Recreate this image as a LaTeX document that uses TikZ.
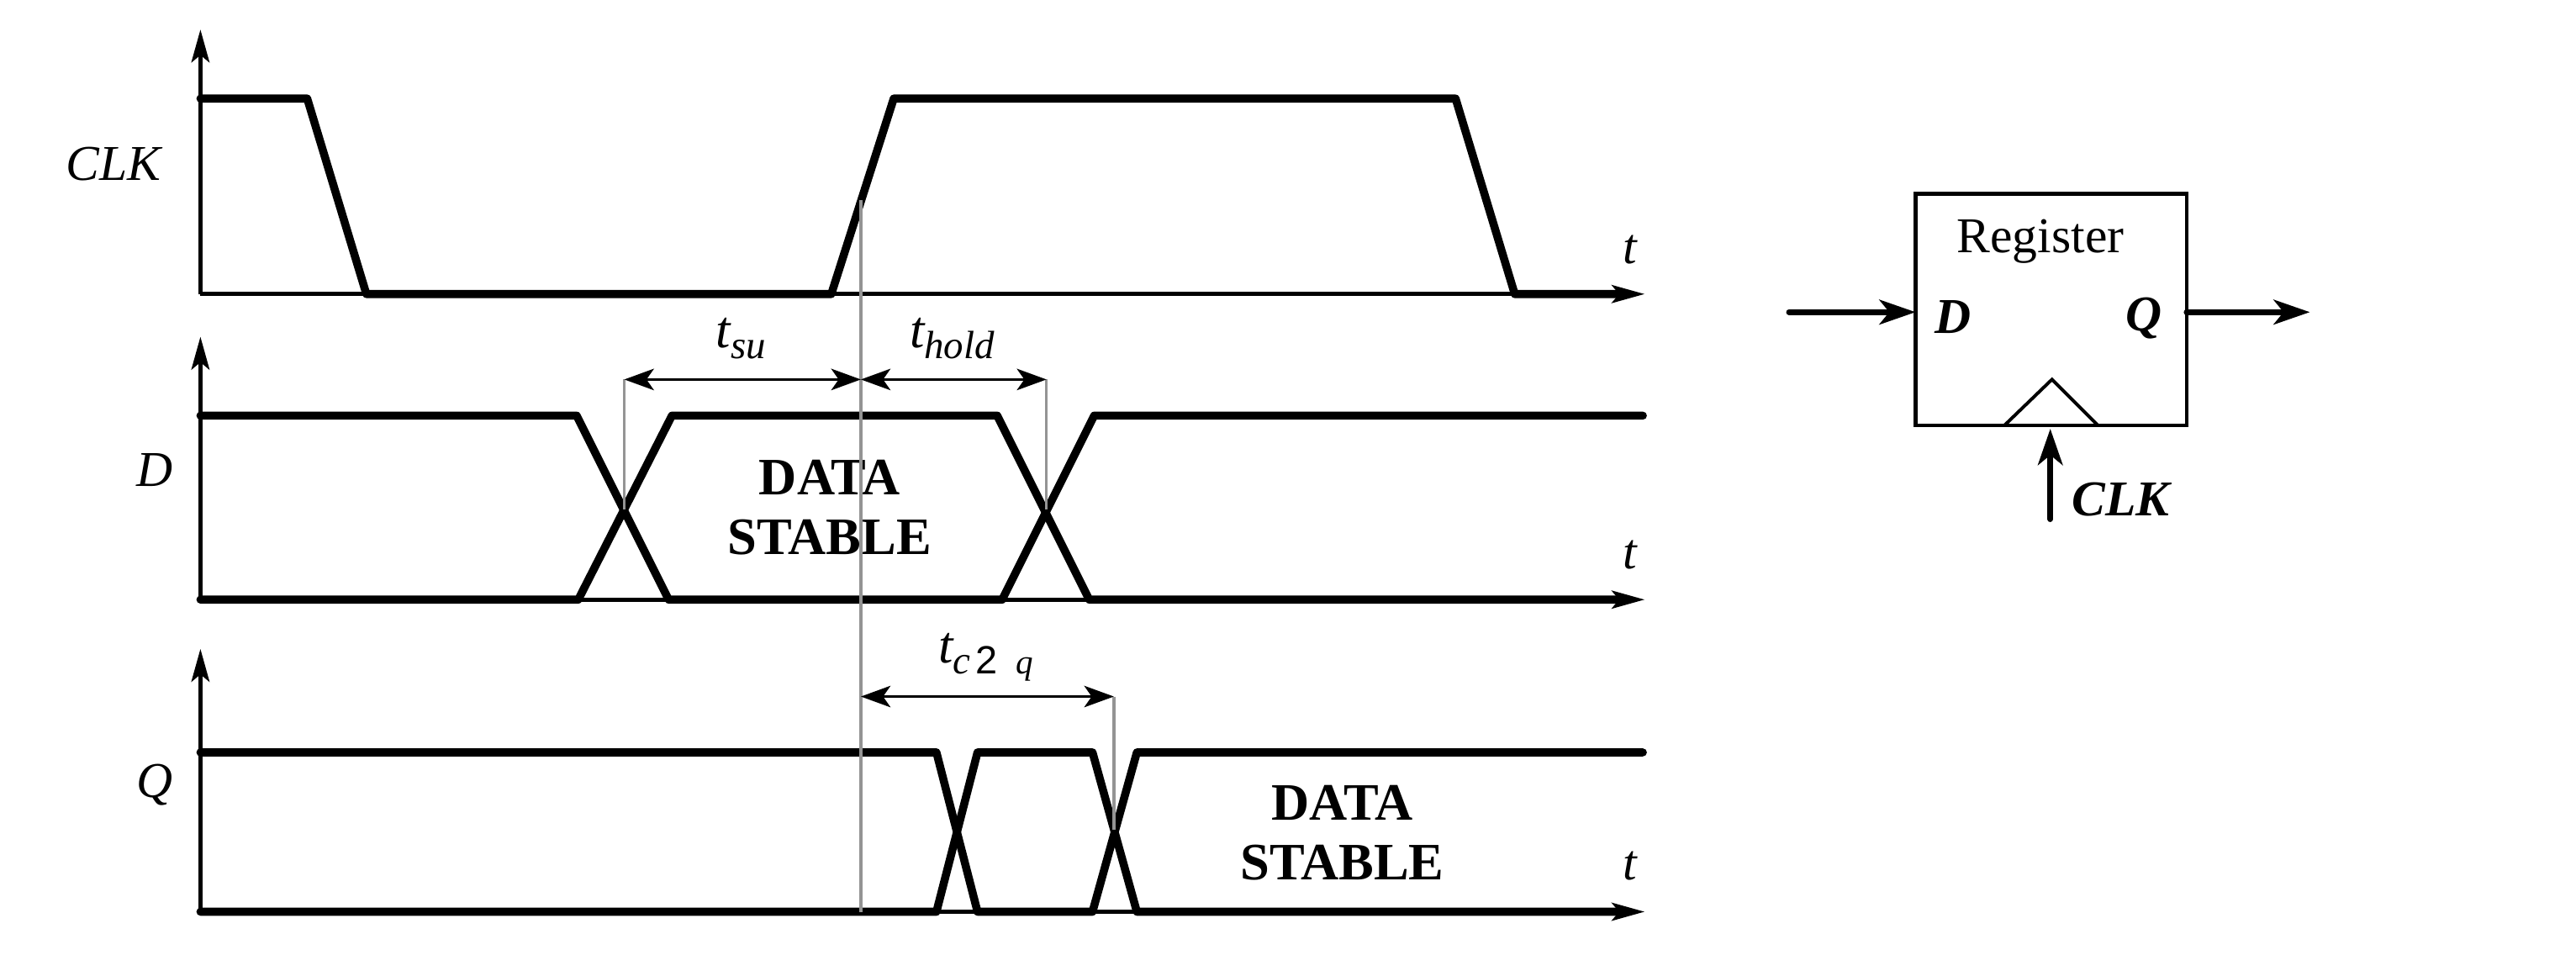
\documentclass[tikz,border=0pt]{standalone}
\usepackage{fontspec}
\setmainfont{Liberation Serif}
\newfontfamily\twofont{Liberation Sans}
\usetikzlibrary{arrows.meta}
\tikzset{
  axisline/.style={line width=2.4pt,-{Stealth[inset=4.5pt,length=20pt,width=11pt]}},
  wave/.style={line width=4.9pt,line join=round,line cap=round},
  guide/.style={line width=1.7pt,draw=black!42},
  dim/.style={line width=1.9pt,{Stealth[inset=4.5pt,length=18pt,width=13pt]}-{Stealth[inset=4.5pt,length=18pt,width=13pt]}},
  bigarrow/.style={line width=3.6pt,line cap=round,-{Stealth[inset=6pt,length=22pt,width=15pt]}},
  sig/.style={font=\fontsize{30.5}{30.5}\selectfont\itshape,inner sep=0pt},
  stable/.style={font=\fontsize{32}{36}\selectfont\bfseries,inner sep=0pt,align=center},
  portlabel/.style={font=\fontsize{30.5}{30.5}\selectfont\bfseries\itshape,inner sep=0pt},
  sublabel/.style={font=\fontsize{32}{32}\selectfont\itshape,inner sep=0pt},
}
\newcommand{\subtxt}[1]{\raisebox{-7pt}{\fontsize{24}{24}\selectfont\itshape #1}}
\begin{document}
\begin{tikzpicture}[x=1pt,y=-1pt]
\useasboundingbox (0,0) rectangle (1568,590.6);
% axes
\coordinate (o1) at (122,179); \coordinate (o2) at (122,365); \coordinate (o3) at (122,555);
\draw[axisline] (o1) -- (122,18);
\draw[axisline] (o1) -- (1001,179);
\draw[axisline] (o2) -- (122,205);
\draw[axisline] (o2) -- (1001,365);
\draw[axisline] (o3) -- (122,395);
\draw[axisline] (o3) -- (1001,555);
% waves
\draw[wave] (122,60) -- (187,60) -- (223,179) -- (506,179) -- (544,60) -- (886,60) -- (922,179) -- (990,179);
\draw[wave] (122,253) -- (351,253) -- (407,365) -- (610,365) -- (666,253) -- (1000,253);
\draw[wave] (122,365) -- (352,365) -- (409,253) -- (607,253) -- (663,365) -- (990,365);
\draw[wave] (122,458) -- (570,458) -- (595,555) -- (665,555) -- (692,458) -- (1000,458);
\draw[wave] (122,555) -- (570,555) -- (595,458) -- (665,458) -- (692,555) -- (990,555);
% stable text
\node[stable] (ds1) at (505,309) {DATA\\STABLE};
\node[stable] (ds2) at (817,507) {DATA\\STABLE};
% guides
\coordinate (ga) at (524,122); \coordinate (gb) at (524,555);
\coordinate (s1) at (380,231); \coordinate (s2) at (380,310);
\coordinate (h1) at (637,231); \coordinate (h2) at (637,310);
\coordinate (q1) at (678,424); \coordinate (q2) at (678,505);
\coordinate (m1) at (524,231); \coordinate (m2) at (524,424);
\draw[guide] (ga) -- (gb);
\draw[guide] (s1) -- (s2);
\draw[guide] (h1) -- (h2);
\draw[guide] (q1) -- (q2);
\draw[dim] (s1) -- (m1);
\draw[dim] (m1) -- (h1);
\draw[dim] (m2) -- (q1);
% dim labels
\node[sublabel] (tsu) at (451,206) {t\subtxt{su}};
\node[sublabel] (thold) at (579.5,206) {t\subtxt{hold}};
\node[sublabel] (tc2q) at (600,400) {t\subtxt{c}\hspace{3pt}\raisebox{-7pt}{\twofont\fontsize{24}{24}\selectfont\upshape 2}\hspace{11pt}\raisebox{-7pt}{\fontsize{21}{21}\selectfont q}};
% signal labels
\node[sig] (lclk) at (69,100) {CLK};
\node[sig] (ld) at (94,286) {D};
\node[sig] (lq) at (94,478) {Q};
\node[sig] (t1) at (992,152) {t};
\node[sig] (t2) at (992,338) {t};
\node[sig] (t3) at (992,527) {t};
% register
\node[draw,line width=2.3pt,minimum width=165pt,minimum height=141pt,inner sep=0pt] (reg) at (1248.5,188.5) {};
\node[font=\fontsize{30.5}{30.5}\selectfont,inner sep=0pt] (regt) at (1242,147) {Register};
\node[portlabel] (pd) at (1189,193) {D};
\node[portlabel] (pq) at (1305,194) {Q};
\coordinate (t0) at (1220,259); \coordinate (tp) at (1249,231); \coordinate (t9) at (1277,259);
\draw[line width=2pt,line join=miter] (t0) -- (tp) -- (t9);
\coordinate (din) at (1089,190); \coordinate (rd) at (1166,190);
\coordinate (rq) at (1331,190); \coordinate (qout) at (1406,190);
\coordinate (cin) at (1248,316); \coordinate (rc) at (1248,261);
\draw[bigarrow] (din) -- (rd);
\draw[bigarrow] (rq) -- (qout);
\draw[bigarrow] (cin) -- (rc);
\node[portlabel] (pclk) at (1291,304) {CLK};
\end{tikzpicture}
\end{document}
